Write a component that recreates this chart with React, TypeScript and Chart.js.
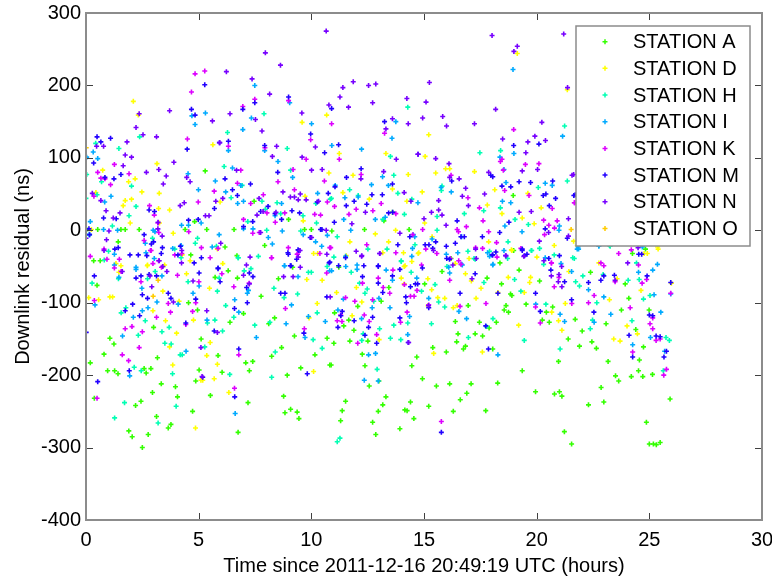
import React, { useEffect, useRef } from "react";
import { Chart, registerables } from "chart.js";

Chart.register(...registerables);

const stationNames = ["STATION A", "STATION D", "STATION H", "STATION I", "STATION K", "STATION M", "STATION N", "STATION O"];
const stationColors = ["#33ff00", "#ffff00", "#00ffb3", "#00aaff", "#dd00ff", "#2200ff", "#7700ff", "#ffcc00"];
const xTicks = [0, 5, 10, 15, 20, 25, 30];
const yTicks = [-400, -300, -200, -100, 0, 100, 200, 300];
const xTitle = "Time since 2011-12-16 20:49:19 UTC (hours)";
const yTitle = "Downlink residual (ns)";

const stationA: number[][] = [
  [0.34,-42],[0.63,-42],[0.49,-76],[0.19,-183],[0.37,-232],[1.06,-149],[1.24,-157],[0.8,-171],[0.96,-194],[1.27,-194],[1.42,-198],[1.9,-277],[2.05,-285],[2.5,-300],[2.2,-242],[2.44,-236],[2.58,-191],[2.67,-197],[2.88,-191],[2.76,-282],[2.95,-224],[3.0,-134],[3.13,-257],[3.17,-176],[3.34,-212],[3.65,-273],[3.77,-268],[3.97,-216],[4.06,-230],[4.55,-100],[4.65,-34],[4.73,-250],[4.87,-208],[5.02,-193],[5.11,-150],[4.95,-110],[5.52,-228],[5.73,-65],[5.86,-173],[6.04,-196],[6.31,-56],[6.39,-127],[6.72,-66],[6.99,-115],[7.09,-183],[7.25,-194],[7.4,-181],[7.19,-238],[6.75,-279],[7.77,-91],[8.11,-129],[8.24,-174],[8.37,-121],[8.68,-162],[8.54,-67],[8.93,-200],[8.77,-229],[8.83,-252],[9.08,-247],[9.37,-251],[9.45,-260],[9.25,-146],[9.53,-190],[10.16,-172],[10.7,-149],[10.82,-186],[6.7,-35],
  [5.29,82],[7.46,40],[8.99,15],[0.52,1],[1.55,1],[1.74,1],[2.36,1],[0.03,1],[1.43,-16],[4.4,1],[4.82,12],[5.36,1],[6.57,1],[6.17,-23],[7.93,-21],[9.7,1],[10.0,1],[9.17,-51],
  [11.22,-51],[11.03,-114],[11.0,-156],[10.88,-186],[11.52,-236],[11.37,-249],[11.3,-263],[11.44,-132],[11.66,-124],[11.89,-138],[11.71,-153],[12.06,-105],[12.26,-171],[12.38,-187],[12.51,-153],[12.57,-215],[12.72,-265],[12.86,-282],[12.97,-250],[13.0,-208],[13.17,-241],[13.31,-230],[13.44,-79],[13.1,-98],[13.93,-274],[14.15,-248],[14.25,-249],[14.4,-237],[14.46,-187],[14.55,-260],[14.68,-175],[14.93,-205],[15.03,-74],[15.21,-243],[15.39,-162],[15.55,-215],[15.8,-57],[15.99,-168],[16.14,-212],[16.3,-250],[16.39,-126],[16.51,-143],[16.45,-154],[16.61,-234],[16.75,-164],[16.84,-160],[16.9,-225],[16.96,-104],[17.09,-212],[17.27,-143],[17.46,-127],[17.6,-146],[17.74,-249],[17.8,-66],[17.89,-135],[18.05,-164],[18.21,-127],[18.27,-211],[18.37,-45],[18.44,-74],[18.56,-110],[18.64,-104],[18.75,-113],[18.84,-88],[18.9,-90],[18.98,-28],[19.22,-55],[19.36,-194],[19.53,-102],[19.95,-223],[20.13,-70],[20.25,-124],[20.43,-113],[20.56,-127],[20.71,-106],[20.79,-226],[21.01,-223],[21.12,-229],[21.23,-278],[21.4,-150],[21.55,-295],[21.71,-123],[21.9,-160],[20.97,-181],
  [22.39,-58],[23.93,-74],[24.83,-26],[24.25,-32],[22.02,-139],[22.45,-154],[22.65,-163],[23.08,-129],[23.17,-181],[23.5,-201],[23.64,-208],[22.86,-217],[22.98,-237],[22.3,-241],[23.76,-110],[24.09,-94],[24.2,-202],[24.4,-137],[24.52,-194],[24.56,-179],[24.71,-202],[24.74,-161],[24.87,-265],[24.99,-110],[25.14,-199],[25.0,-295],[25.18,-295],[25.31,-296],[25.48,-293],[25.92,-233],
  [13.22,13],[12.36,1],[13.6,25],[14.34,1],[18.96,48],[10.91,-1],[16.2,-39]
];

const stationD: number[][] = [
  [2.1,178],[2.32,159],[5.63,118],[3.15,92],[0.74,83],[1.89,67],[2.18,71],[2.48,53],[3.25,51],[1.74,41],[2.02,43],[1.65,34],[0.44,52],[3.22,30],[3.71,28],[1.96,10],[3.26,10],[3.87,-4],[5.95,39],[6.07,-46],[1.55,-49],[1.33,-46],[0.24,1],[2.72,-49],[3.49,-48],[5.83,-26],[4.27,-34],[4.62,-42],[9.59,149],[10.68,159],[10.78,79],[9.72,47],[9.64,13],[10.1,-32],[10.28,-32],
  [1.46,-58],[0.12,-93],[0.56,-96],[1.06,-92],[1.18,-92],[2.73,-48],[2.97,-111],[3.41,-84],[3.53,-125],[4.02,-142],[3.71,-161],[3.85,-186],[4.13,-98],[4.77,-124],[4.46,-60],[5.36,-173],[5.51,-155],[5.1,-207],[5.18,-207],[5.69,-205],[5.83,-185],[5.48,-80],[6.34,-224],[4.86,-273],[9.8,-68],[10.1,-195],[10.26,-101],[9.9,-121],[10.48,-69],
  [19.14,244],[21.36,194],[15.21,132],[13.31,106],[15.05,102],[11.24,106],[14.3,77],[15.52,79],[15.96,85],[16.14,85],[17.24,81],[11.85,76],[11.4,52],[12.57,43],[13.6,57],[14.92,53],[14.24,40],[18.14,56],[17.81,35],[18.46,23],[12.84,-5],[11.71,-16],[13.43,-16],[13.74,0],[14.16,-49],[14.77,-31],[15.03,10],[15.36,-9],[17.0,-39],[17.87,-16],[18.88,-27],[19.36,17],[19.61,51],[19.89,9],[20.2,31],[20.78,-21],[21.8,-21],[20.01,-37],
  [11.55,-35],[11.12,-86],[12.0,-79],[12.24,-99],[11.81,-118],[13.01,-151],[13.17,-31],[14.09,-31],[14.74,-32],[14.12,-50],[14.46,-43],[13.99,-66],[14.12,-74],[15.17,-67],[15.34,-82],[15.61,-93],[15.92,-94],[15.18,-104],[16.3,-107],[16.47,-104],[15.43,-170],[16.39,-46],[16.84,-60],[17.1,-70],[17.31,-94],[17.53,-80],[17.59,-168],[18.28,-86],[18.74,-65],[18.9,-28],[19.2,-131],[19.45,-86],[19.69,-72],[19.73,-65],[20.67,-113],[20.97,-125],[21.12,-138],[21.27,-101],[21.43,-57],
  [22.76,-45],[23.57,-67],[23.23,-96],[24.63,-83],[24.01,-132],[24.47,-143],[23.42,-150],[23.7,-153],[24.91,-32],[24.77,-32],[25.39,-26],[25.98,-73],[21.64,-15],[25.37,-23]
];

const stationH: number[][] = [
  [0.43,120],[1.46,113],[2.38,129],[0.03,77],[0.69,67],[0.49,49],[2.02,61],[2.22,33],[1.91,20],[0.0,44],[1.17,6],[1.0,-29],[0.15,-6],[2.95,-11],[3.94,-26],[4.95,-11],[4.85,-18],[6.28,135],[6.13,88],[6.44,45],[6.93,62],[7.18,12],[7.81,40],[7.96,29],[7.9,161],[8.93,113],[9.08,83],[8.48,38],[8.64,23],[8.02,0],[9.63,20],[10.23,10],[10.2,37],[9.53,-1],[10.84,43],[6.75,-38],[7.65,-36],[5.79,-22],
  [0.27,-73],[0.81,-41],[1.56,-114],[1.77,-107],[2.32,-145],[2.63,-125],[2.14,-189],[2.45,-194],[1.71,-238],[1.27,-259],[2.73,-67],[3.07,-57],[3.37,-140],[3.69,-134],[3.5,-156],[3.78,-157],[3.84,-198],[3.2,-266],[4.0,-243],[4.18,-172],[4.27,-172],[4.53,-71],[4.22,-38],[5.39,-128],[5.72,-124],[5.27,-161],[5.91,-66],[6.06,-139],[5.83,-84],[6.2,-104],[6.38,-199],[6.56,-120],[6.76,-38],[7.02,-56],[7.32,-53],[7.49,-131],[8.34,-80],[8.16,-127],[8.4,-168],[8.24,-203],[8.79,-93],[9.39,-88],[9.87,-58],[10.0,-58],[10.26,-114],[10.08,-151],[10.48,-163],[10.7,-50],[1.44,-67],
  [14.28,170],[21.24,144],[13.51,102],[17.48,107],[18.4,110],[13.66,76],[13.84,51],[21.36,68],[11.7,56],[10.89,44],[12.08,48],[14.13,22],[14.46,43],[15.8,61],[15.77,55],[16.79,23],[17.65,27],[18.39,31],[19.04,15],[19.63,8],[20.07,59],[20.13,-25],[18.73,-16],[19.76,-28],[18.71,-39],[16.95,-29],[17.91,-29],[17.22,-39],[15.58,19],[15.58,0],[12.51,-26],[11.15,-9],[11.0,-37],[13.36,-26],[13.99,-42],[14.6,-20],[16.02,-50],[21.6,-38],[20.78,-34],[13.17,15],
  [11.77,-58],[12.14,-73],[12.38,-87],[12.48,-81],[12.77,-98],[13.03,-136],[12.3,-143],[12.24,-152],[12.92,-192],[11.15,-292],[11.27,-287],[13.51,-149],[13.66,-131],[13.99,-43],[13.97,-151],[14.28,-128],[14.43,-58],[14.89,-84],[15.33,-129],[15.49,-75],[15.65,-99],[15.92,-106],[16.97,-148],[17.66,-72],[17.77,-133],[18.06,-122],[17.27,-40],[19.02,-68],[19.3,-84],[19.45,-152],[19.78,-28],[20.31,-47],[20.41,-102],[21.04,-164],[21.73,-71],[21.9,-77],
  [21.67,-39],[22.05,-63],[22.95,-61],[24.06,-69],[24.43,-45],[24.55,-68],[24.74,-95],[25.03,-90],[22.67,-100],[22.48,-124],[22.38,-136],[24.23,-125],[25.74,-148],[25.89,-152],[25.62,-194],[23.23,-21],[22.76,-21],[23.26,-22]
];

const stationI: number[][] = [
  [0.32,108],[0.52,99],[0.03,101],[4.7,158],[5.3,162],[4.84,146],[7.49,200],[6.96,139],[7.34,155],[7.93,110],[6.32,110],[9.04,176],[10.01,147],[8.52,95],[4.53,78],[5.74,68],[6.5,86],[4.99,56],[6.2,53],[6.87,62],[6.99,40],[6.73,37],[9.17,73],[10.28,51],[8.68,37],[8.39,20],[0.19,12],[0.83,39],[1.11,47],[1.4,0],[0.78,1],[0.15,-6],[2.98,0],[4.24,7],[4.55,7],[5.11,10],[5.91,-6],[6.99,2],[7.41,2],[8.09,-10],[8.27,-19],[8.71,-1],[9.64,-6],[10.19,-16],[10.46,-22],[10.71,-7],[2.63,-18],[2.66,-31],[3.85,-25],[5.6,-23],[3.06,-2],[1.26,-33],[1.26,-48],[8.82,-49],[2.22,-51],[4.22,-21],
  [1.46,-65],[2.22,-54],[0.4,-103],[1.62,-146],[2.1,-120],[2.48,-80],[2.5,-111],[2.75,-107],[3.15,-99],[3.37,-63],[3.03,-39],[4.09,-102],[4.44,-167],[4.75,-87],[5.02,-77],[5.37,-124],[6.6,-96],[6.78,-113],[7.16,-87],[7.21,-83],[6.62,-253],[1.94,-201],[7.56,-148],[8.8,-49],[9.12,-103],[9.41,-64],[8.88,-129],[9.87,-119],[9.72,-148],[10.62,-126],[10.81,-56],
  [18.95,222],[13.75,150],[13.58,127],[21.15,130],[10.91,117],[12.23,112],[18.37,101],[18.99,106],[18.55,84],[13.16,74],[12.67,63],[13.42,62],[14.73,38],[15.76,59],[16.21,53],[18.48,40],[18.85,38],[18.64,66],[20.38,65],[20.69,62],[12.08,46],[11.44,15],[11.75,0],[12.84,15],[13.28,18],[14.52,-6],[14.59,-9],[15.36,-12],[16.67,-9],[17.82,-31],[18.05,-48],[18.59,6],[19.35,-2],[21.01,6],[20.99,0],[21.8,-26],[20.38,-38],[21.08,-46],[17.91,-36],[16.7,-48],[15.99,-33],[14.49,-25],[11.52,-36],[12.03,-48],[11.49,45],[11.06,62],
  [10.9,-56],[11.53,-50],[11.42,-95],[11.18,-110],[12.03,-54],[12.23,-122],[12.54,-172],[12.85,-170],[12.35,-207],[12.97,-208],[12.7,-107],[13.0,-94],[13.6,-69],[13.32,-55],[13.49,-107],[14.28,-144],[14.36,-119],[14.68,-66],[14.46,-36],[15.21,-94],[16.1,-51],[16.14,-59],[16.55,-112],[16.89,-122],[16.67,-47],[18.06,-47],[18.28,-172],[18.55,-28],[19.96,-102],[21.04,-116],[21.24,-126],[16.5,-31],
  [21.86,-26],[21.55,-57],[22.3,-82],[22.98,-92],[23.29,-116],[22.55,-127],[24.52,-58],[25.15,-55],[25.36,-47],[25.21,-89],[25.51,-113],[25.05,-148],[24.26,-158],[25.95,-88],[25.68,-167],[22.76,-22],[21.84,-23],[24.69,-23]
];

const stationK: number[][] = [
  [4.84,216],[5.27,220],[4.68,191],[6.96,171],[7.49,181],[8.99,179],[9.97,125],[4.5,126],[6.32,116],[7.94,114],[1.26,91],[0.52,80],[0.84,71],[0.66,72],[1.09,63],[0.35,47],[1.91,78],[2.82,34],[3.03,21],[3.23,-3],[4.98,39],[5.69,54],[6.72,65],[6.87,83],[9.19,84],[9.77,98],[9.25,56],[8.52,67],[7.87,49],[8.03,24],[7.31,37],[6.99,15],[7.4,-4],[7.69,-3],[8.4,11],[8.82,24],[10.71,39],[10.15,22],[10.41,21],[10.58,68],[4.56,-2],[3.19,10],[2.58,-14],[3.22,-42],[2.86,-28],[1.48,-40],[0.8,-26],[0.19,-36],[0.93,-40],[3.35,-51],[5.12,-24],[5.51,-38],[3.94,-34],[5.86,-25],[8.98,-24],[9.37,-33],[8.23,-38],[10.38,-32],[10.82,-24],
  [1.26,-52],[1.56,-57],[0.37,-97],[1.74,-136],[2.04,-133],[1.61,-172],[1.89,-180],[2.36,-162],[2.5,-140],[2.44,-71],[2.89,-28],[2.97,-46],[3.75,-113],[3.13,-120],[4.06,-62],[4.25,-32],[3.65,-101],[4.43,-130],[4.73,-112],[5.01,-71],[4.87,-100],[6.03,-60],[6.56,-78],[6.78,-172],[6.59,-218],[7.24,-73],[8.24,-38],[8.85,-108],[9.39,-33],[9.69,-136],[10.68,-59],[0.49,-232],
  [10.9,147],[13.25,134],[18.98,139],[11.24,98],[12.21,77],[13.1,37],[11.03,33],[11.67,22],[11.99,29],[12.73,27],[13.75,23],[14.5,-6],[14.94,1],[16.2,76],[16.95,45],[17.46,31],[17.62,13],[18.39,95],[18.46,98],[18.52,83],[19.5,91],[20.1,92],[18.58,55],[19.66,48],[20.69,30],[20.31,14],[20.54,7],[20.79,3],[20.35,-6],[20.91,13],[21.69,38],[16.47,1],[16.53,-2],[16.88,5],[17.87,-2],[18.22,-17],[17.29,-24],[17.6,-25],[16.17,-39],[16.54,-42],[16.64,-47],[15.57,-32],[15.08,-26],[13.75,-31],[12.46,-20],[10.86,-24],[19.3,-25],[20.66,-45],
  [13.62,-55],[14.89,-48],[16.14,-69],[12.72,-96],[11.93,-98],[12.27,-73],[12.97,-66],[13.19,-79],[13.48,-87],[14.4,-91],[14.56,-91],[14.13,-75],[14.69,-83],[14.25,-113],[13.96,-127],[12.35,-117],[12.57,-126],[11.3,-117],[11.15,-125],[11.36,-126],[11.52,-93],[12.06,-156],[12.9,-144],[15.21,-103],[16.6,-105],[17.75,-101],[15.77,-264],[18.24,-37],[19.95,-106],[20.16,-128],[20.99,-65],[20.78,-78],[21.56,-101],[20.65,-45],
  [23.64,-32],[24.2,-27],[22.85,-45],[22.98,-49],[23.48,-71],[24.52,-48],[24.68,-73],[24.88,-68],[22.55,-90],[22.3,-100],[24.15,-107],[25.15,-121],[25.03,-129],[25.15,-136],[25.3,-152],[25.48,-150],[24.26,-168],[25.76,-192],[25.64,-200],[25.95,-87],[21.67,38]
];

const stationM: number[][] = [
  [5.27,201],[6.96,167],[7.49,176],[8.99,184],[4.68,167],[4.84,159],[9.97,133],[0.49,129],[0.66,122],[1.09,127],[0.34,93],[1.24,71],[1.55,77],[4.49,112],[5.92,121],[6.32,123],[7.93,117],[10.59,107],[6.17,71],[6.5,56],[7.3,64],[6.72,48],[8.51,80],[8.68,15],[8.39,23],[7.75,26],[8.08,33],[9.14,27],[9.48,24],[10.26,39],[10.75,51],[0.78,17],[0.13,2],[0.16,-6],[1.34,16],[0.84,73],[3.04,26],[2.8,28],[2.58,-6],[3.0,-16],[2.9,-19],[1.28,-26],[1.43,-24],[2.7,-35],[2.32,-34],[3.39,-24],[4.19,-22],[4.08,-34],[4.98,15],[4.55,14],[5.7,30],[6.99,5],[7.4,12],[8.96,-31],[9.41,-27],[9.35,-40],[9.1,-49],[9.95,-10],[10.41,1],[10.47,1],[10.79,-45],[5.86,-52],[4.8,-45],[5.12,-38],[1.95,-34],
  [0.37,-63],[2.44,-63],[2.8,-61],[2.22,-66],[3.34,-32],[3.13,-63],[3.65,-87],[3.77,-94],[2.73,-94],[2.5,-89],[2.07,-102],[1.74,-111],[2.38,-118],[4.87,-95],[4.43,-128],[5.02,-59],[5.86,-53],[5.95,-71],[5.69,-139],[6.59,-108],[6.78,-164],[7.16,-100],[7.25,-59],[7.41,-64],[7.13,-79],[8.64,-87],[8.83,-87],[9.07,-49],[8.98,-33],[9.45,-28],[9.67,-142],[9.82,-198],[10.69,-92],[10.82,-44],[6.6,-230],[5.18,-203],[1.92,-194],[0.52,-209],[0.01,-141],
  [10.9,168],[13.25,150],[11.21,118],[14.74,105],[20.1,119],[18.98,117],[12.21,85],[11.56,73],[11.05,60],[13.6,64],[12.69,49],[13.15,49],[16.23,68],[17.96,76],[18.05,74],[18.46,61],[18.85,60],[19.22,67],[19.73,66],[20.29,48],[20.41,50],[20.56,34],[20.84,44],[20.71,68],[21.65,48],[11.55,34],[11.9,40],[12.46,36],[11.02,11],[13.43,24],[13.61,25],[14.37,-9],[15.05,-20],[15.22,-20],[15.52,-16],[15.99,-22],[16.39,-18],[16.64,-9],[16.79,-9],[16.47,13],[17.59,-9],[18.03,-34],[18.36,-3],[18.77,11],[19.36,-26],[20.38,2],[21.36,-11],[16.01,-39],[15.39,-25],[13.84,-20],[12.33,-49],[12.97,-49],[11.21,-49],[19.57,-33],[20.54,-39],
  [11.52,-38],[12.97,-50],[12.27,-64],[12.97,-73],[13.17,-86],[13.6,-63],[13.93,-54],[14.19,-92],[14.22,-100],[14.4,-78],[14.62,-74],[14.72,-74],[14.93,-52],[16.6,-87],[16.13,-40],[17.27,-60],[18.19,-30],[18.05,-34],[17.74,-132],[17.86,-164],[11.37,-112],[11.31,-118],[11.18,-134],[11.9,-125],[12.54,-134],[12.72,-120],[12.38,-145],[12.9,-156],[13.93,-121],[14.3,-155],[15.21,-107],[15.77,-279],[18.28,-87],[19.36,-28],[19.46,-35],[19.95,-87],[20.16,-112],[20.63,-55],[21.01,-35],[21.24,-71],[21.55,-96],
  [22.3,-72],[22.85,-69],[22.98,-63],[23.45,-62],[24.66,-33],[24.53,-33],[24.9,-63],[22.54,-113],[25.0,-117],[25.15,-118],[24.1,-145],[25.3,-146],[25.48,-147],[24.26,-175],[25.65,-175],[25.76,-167],[25.95,-72],[21.71,49]
];

const stationN: number[][] = [
  [10.66,275],[7.96,245],[8.63,228],[6.23,219],[7.37,209],[8.15,188],[2.36,161],[3.71,165],[6.39,161],[5.61,151],[7.52,153],[9.58,162],[10.78,173],[2.22,142],[2.53,132],[3.13,129],[7.81,137],[1.82,122],[0.78,116],[0.47,116],[1.74,104],[2.02,101],[1.65,89],[3.9,94],[3.23,84],[2.68,80],[3.56,75],[3.43,64],[4.47,73],[4.62,67],[5.94,121],[6.68,83],[8.27,102],[8.46,116],[9.59,101],[10.18,115],[10.01,83],[10.48,84],[8.74,53],[9.07,46],[9.25,46],[9.51,50],[9.42,42],[9.77,42],[10.32,40],[8.43,25],[7.68,44],[7.86,26],[7.59,21],[6.07,44],[5.76,40],[4.18,34],[4.36,38],[5.3,20],[5.46,20],[0.89,27],[0.66,41],[0.28,51],[1.51,24],[1.21,17],[1.02,-1],[0.0,-11],[0.91,-13],[3.2,11],[3.19,2],[3.38,-8],[4.25,-28],[5.98,-18],[7.12,-48],[7.28,-37],[7.75,-3],[9.42,-37],[9.5,-28],[9.51,-51],[10.01,-10],[10.66,0],
  [0.8,-28],[1.61,-57],[3.25,-42],[3.59,-57],[2.84,-63],[2.92,-78],[3.41,-50],[3.88,-99],[4.24,-45],[4.75,-70],[5.36,-111],[5.83,-141],[5.1,-162],[5.15,-202],[6.99,-62],[7.25,-74],[8.77,-64],[9.19,-64],[10.69,-33],[10.84,-92],
  [18.02,269],[21.2,271],[19.14,254],[18.99,247],[11.86,205],[12.54,200],[12.86,202],[15.24,204],[11.4,197],[11.27,184],[14.24,182],[12.72,176],[11.65,170],[15.09,177],[18.18,167],[21.37,197],[20.23,149],[13.6,154],[14.94,155],[15.83,157],[14.3,147],[16.0,144],[17.24,147],[13.31,140],[18.49,126],[19.92,130],[20.39,124],[19.61,122],[19.52,107],[14.73,105],[13.77,98],[15.52,99],[16.11,92],[19.36,82],[20.04,84],[13.21,81],[12.2,71],[16.56,71],[16.14,73],[16.85,58],[17.87,80],[21.57,76],[14.12,52],[15.65,41],[17.69,50],[14.42,40],[16.7,47],[15.33,25],[15.65,28],[15.8,21],[16.97,34],[19.22,25],[19.76,26],[21.41,16],[12.4,25],[11.8,9],[12.23,-36],[13.04,-32],[15.0,16],[15.98,7],[13.93,-4],[17.29,-26],[18.62,-35],[19.43,-36],[20.12,-15],[20.53,-3],[21.41,-8],[21.84,82],[21.64,77],
  [11.99,-29],[12.24,-35],[13.03,-32],[15.42,-28],[17.32,-39],[18.64,-35],[16.28,-48],[17.13,-67],[20.65,-63],[21.11,-50],[20.99,-61],[20.96,-71],[21.12,-78],[20.32,-42],[14.32,-155],[15.2,-104],
  [24.04,-45],[24.5,-24],[23.48,-69]
];

const stationO: number[][] = [
  [3.2,-69],[2.98,-91],[21.53,1],[0.01,114]
];

const stations = [stationA, stationD, stationH, stationI, stationK, stationM, stationN, stationO];

const FONT = "'Liberation Sans', Arial, sans-serif";

const framePlugin = {
  id: "matlabFrame",
  afterDatasetsDraw(chart: any) {
    const { ctx, chartArea } = chart;
    const { left, right, top, bottom } = chartArea;
    const xs = chart.scales.x;
    const ys = chart.scales.y;
    ctx.save();
    ctx.strokeStyle = "#404040";
    ctx.lineWidth = 1;
    const tl = 7;
    ctx.beginPath();
    for (const v of xTicks) {
      const px = Math.round(xs.getPixelForValue(v)) + 0.5;
      ctx.moveTo(px, bottom);
      ctx.lineTo(px, bottom - tl);
      ctx.moveTo(px, top);
      ctx.lineTo(px, top + tl);
    }
    for (const v of yTicks) {
      const py = Math.round(ys.getPixelForValue(v)) + 0.5;
      ctx.moveTo(left, py);
      ctx.lineTo(left + tl, py);
      ctx.moveTo(right, py);
      ctx.lineTo(right - tl, py);
    }
    ctx.stroke();
    ctx.strokeStyle = "#8c8c8c";
    ctx.lineWidth = 2;
    ctx.strokeRect(left, top, right - left, bottom - top);

    const lx = 576, ly = 26, lw = 174, lh = 220;
    ctx.fillStyle = "#ffffff";
    ctx.fillRect(lx, ly, lw, lh);
    ctx.strokeStyle = "#8c8c8c";
    ctx.lineWidth = 1.5;
    ctx.strokeRect(lx, ly, lw, lh);
    ctx.font = `20px ${FONT}`;
    ctx.textBaseline = "middle";
    ctx.textAlign = "left";
    stationNames.forEach((name, i) => {
      const cy = 41.7 + i * 26.67;
      ctx.strokeStyle = stationColors[i];
      ctx.lineWidth = 1.5;
      ctx.beginPath();
      ctx.moveTo(602.5, cy);
      ctx.lineTo(607.5, cy);
      ctx.moveTo(605, cy - 2.5);
      ctx.lineTo(605, cy + 2.5);
      ctx.stroke();
      ctx.fillStyle = "#000000";
      ctx.fillText(name, 633, cy + 1);
    });
    ctx.restore();
  },
};

export default function App() {
  const canvasRef = useRef<HTMLCanvasElement | null>(null);

  useEffect(() => {
    const canvas = canvasRef.current;
    if (!canvas) return;
    const datasets = stations.map((pts, i) => ({
      label: stationNames[i],
      data: pts.map(([x, y]) => ({ x, y })),
      pointStyle: "cross" as const,
      pointRadius: 2.5,
      pointHoverRadius: 2.5,
      pointBorderWidth: 1.6,
      borderColor: stationColors[i],
      backgroundColor: stationColors[i],
      showLine: false,
      order: stations.length - i,
    }));

    const chart = new Chart(canvas, {
      type: "scatter",
      data: { datasets },
      options: {
        animation: false,
        responsive: false,
        devicePixelRatio: 1,
        layout: { padding: { left: 0, top: 13, right: 10, bottom: 0 } },
        plugins: {
          legend: { display: false },
          tooltip: { enabled: false },
        },
        scales: {
          x: {
            type: "linear",
            min: 0,
            max: 30,
            afterBuildTicks: (s: any) => {
              s.ticks = xTicks.map((v) => ({ value: v }));
            },
            afterFit: (s: any) => {
              s.height = 59;
              s.paddingLeft = 0;
              s.paddingRight = 0;
            },
            grid: { display: false, drawTicks: false },
            border: { display: false },
            ticks: {
              color: "#000",
              font: { family: FONT, size: 20 },
              padding: 8,
              maxRotation: 0,
              autoSkip: false,
            },
            title: {
              display: true,
              text: xTitle,
              color: "#000",
              font: { family: FONT, size: 20 },
              padding: { top: 0, bottom: 1 },
            },
          },
          y: {
            type: "linear",
            min: -400,
            max: 300,
            afterBuildTicks: (s: any) => {
              s.ticks = yTicks.map((v) => ({ value: v }));
            },
            afterFit: (s: any) => {
              s.width = 86;
              s.paddingTop = 0;
              s.paddingBottom = 0;
            },
            grid: { display: false, drawTicks: false },
            border: { display: false },
            ticks: {
              color: "#000",
              font: { family: FONT, size: 20 },
              padding: 5,
              autoSkip: false,
            },
            title: {
              display: true,
              text: yTitle,
              color: "#000",
              font: { family: FONT, size: 20 },
              padding: { top: 11, bottom: 0 },
            },
          },
        },
      },
      plugins: [framePlugin],
    });
    return () => chart.destroy();
  }, []);

  return (
    <div style={{ position: "absolute", left: 0, top: 0, width: 772, height: 579, background: "#fff" }}>
      <canvas ref={canvasRef} width={772} height={579} style={{ display: "block", width: 772, height: 579 }} />
    </div>
  );
}
